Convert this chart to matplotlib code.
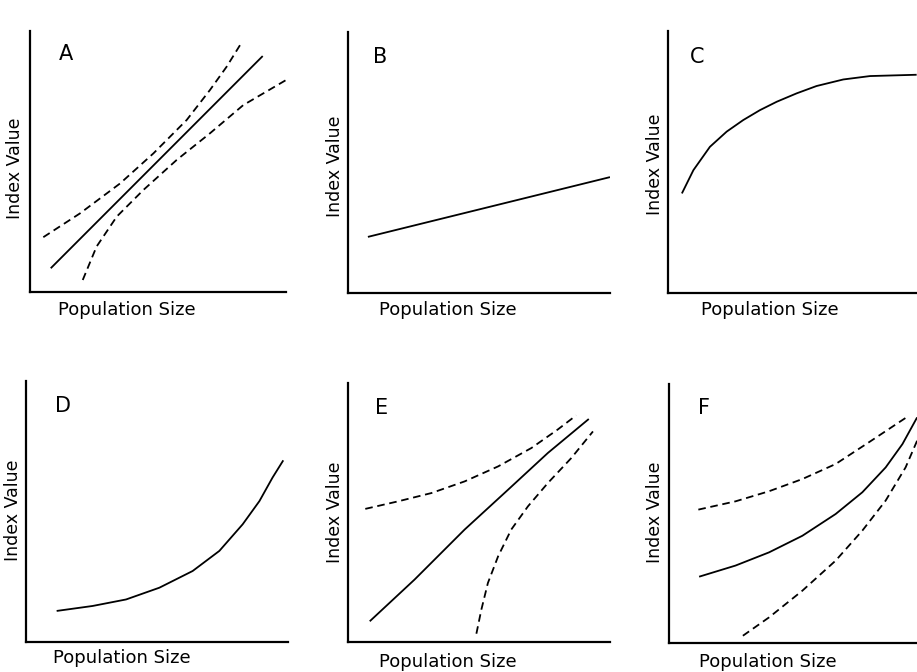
import matplotlib
matplotlib.use("Agg")
import matplotlib.pyplot as plt

# ---- data (axis fractions 0..1) ----
panel_labels = ["A", "B", "C", "D", "E", "F"]
x_label = "Population Size"
y_label = "Index Value"

a_fit_x = [0.081, 0.909]
a_fit_y = [0.091, 0.904]
a_upper_x = [0.052, 0.195, 0.352, 0.482, 0.612, 0.703, 0.768, 0.823]
a_upper_y = [0.210, 0.301, 0.416, 0.531, 0.659, 0.774, 0.863, 0.950]
a_lower_x = [0.206, 0.260, 0.339, 0.443, 0.573, 0.703, 0.833, 1.0]
a_lower_y = [0.046, 0.174, 0.289, 0.391, 0.506, 0.608, 0.716, 0.812]

b_fit_x = [0.076, 1.0]
b_fit_y = [0.215, 0.444]

c_fit_x = [0.053, 0.097, 0.160, 0.224, 0.287, 0.351, 0.415, 0.491, 0.567, 0.669, 0.771, 0.949]
c_fit_y = [0.380, 0.469, 0.558, 0.616, 0.660, 0.698, 0.730, 0.762, 0.790, 0.815, 0.828, 0.833]

d_fit_x = [0.117, 0.254, 0.382, 0.509, 0.636, 0.738, 0.827, 0.891, 0.941, 0.982]
d_fit_y = [0.119, 0.138, 0.163, 0.208, 0.272, 0.349, 0.451, 0.540, 0.630, 0.696]

e_fit_x = [0.083, 0.254, 0.445, 0.611, 0.763, 0.919]
e_fit_y = [0.080, 0.241, 0.434, 0.588, 0.730, 0.861]
e_upper_x = [0.066, 0.191, 0.318, 0.445, 0.573, 0.700, 0.800, 0.871]
e_upper_y = [0.514, 0.543, 0.575, 0.620, 0.678, 0.749, 0.820, 0.875]
e_lower_x = [0.490, 0.509, 0.534, 0.573, 0.623, 0.687, 0.763, 0.852, 0.935]
e_lower_y = [0.032, 0.125, 0.228, 0.331, 0.434, 0.524, 0.614, 0.710, 0.813]

f_fit_x = [0.115, 0.254, 0.382, 0.509, 0.636, 0.738, 0.827, 0.891, 0.947]
f_fit_y = [0.256, 0.299, 0.350, 0.414, 0.498, 0.582, 0.678, 0.768, 0.871]
f_upper_x = [0.112, 0.254, 0.382, 0.509, 0.636, 0.763, 0.906]
f_upper_y = [0.515, 0.547, 0.586, 0.633, 0.691, 0.775, 0.871]
f_lower_x = [0.282, 0.382, 0.509, 0.636, 0.738, 0.827, 0.903, 0.947]
f_lower_y = [0.028, 0.099, 0.202, 0.318, 0.434, 0.550, 0.678, 0.781]

# ---- layout ----
W, H = 917, 672
plt.rcParams['font.family'] = ['DejaVu Sans']
fig = plt.figure(figsize=(W / 100, H / 100), dpi=100)

# (left px, bottom px, width px, height px)
boxes = [
    (30, 292, 256, 261),
    (348, 293, 262, 261),
    (668, 293, 262, 262),
    (26, 642, 262, 261),
    (348, 642, 262, 259),
    (669, 643, 262, 259),
]
letter_pos = [(0.14, 0.912), (0.122, 0.904), (0.11, 0.90),
              (0.141, 0.904), (0.13, 0.903), (0.134, 0.907)]
# x-label (axes-x fraction, px below axis); y-label (px left of spine, axes-y fraction)
xlab_pos = [(0.38, 18), (0.38, 17), (0.39, 17), (0.365, 16), (0.38, 20), (0.378, 19)]
ylab_pos = [(15, 0.475), (13, 0.487), (13, 0.49), (13, 0.506), (13, 0.50), (14, 0.506)]

solid_kw = dict(color="black", lw=1.3, solid_capstyle="butt", solid_joinstyle="round")
dash_kw = dict(color="black", lw=1.3, dashes=(4.2, 2.6))

axes = []
for (l, b, w, h), lab, (lx, ly), (xx, xd), (yd, yy) in zip(
        boxes, panel_labels, letter_pos, xlab_pos, ylab_pos):
    ax = fig.add_axes([l / W, (H - b) / H, w / W, h / H])
    ax.set_xlim(0, 1)
    ax.set_ylim(0, 1)
    for s in ("top", "right"):
        ax.spines[s].set_visible(False)
    for s in ("left", "bottom"):
        ax.spines[s].set_linewidth(1.6)
    ax.set_xticks([])
    ax.set_yticks([])
    ax.set_xlabel(x_label, fontsize=13, va="center")
    ax.set_ylabel(y_label, fontsize=12.5, va="center")
    ax.xaxis.set_label_coords(xx, -xd / h)
    ax.yaxis.set_label_coords(-yd / w, yy)
    ax.text(lx, ly, lab, transform=ax.transAxes, fontsize=15,
            ha="center", va="center")
    axes.append(ax)

axA, axB, axC, axD, axE, axF = axes
axA.plot(a_fit_x, a_fit_y, **solid_kw)
axA.plot(a_upper_x, a_upper_y, **dash_kw)
axA.plot(a_lower_x, a_lower_y, **dash_kw)

axB.plot(b_fit_x, b_fit_y, **solid_kw)

axC.plot(c_fit_x, c_fit_y, **solid_kw)

axD.plot(d_fit_x, d_fit_y, **solid_kw)

axE.plot(e_fit_x, e_fit_y, **solid_kw)
axE.plot(e_upper_x, e_upper_y, **dash_kw)
axE.plot(e_lower_x, e_lower_y, **dash_kw)

axF.plot(f_fit_x, f_fit_y, **solid_kw)
axF.plot(f_upper_x, f_upper_y, **dash_kw)
axF.plot(f_lower_x, f_lower_y, **dash_kw)

fig.savefig("out.png", dpi=100)
